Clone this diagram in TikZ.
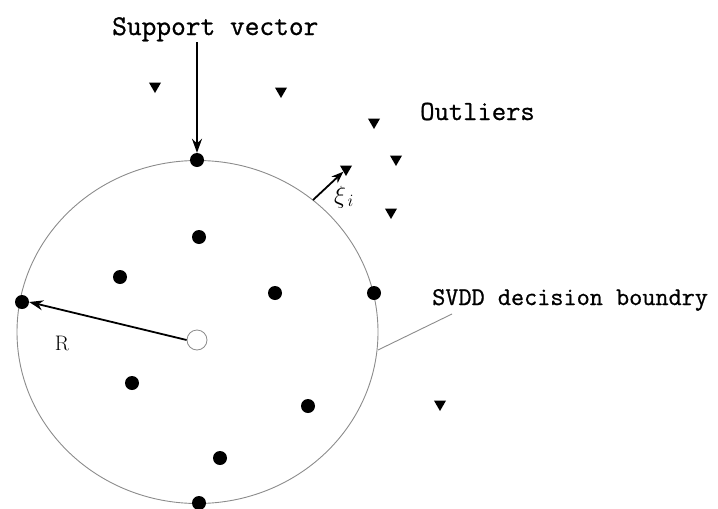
\documentclass[tikz,border=0pt]{standalone}
\usepackage{fontspec}
\setmonofont{Latin Modern Mono}[FakeBold=0.8]
\usetikzlibrary{shapes.geometric,arrows.meta}
\tikzset{
  dot/.style={circle,fill=black,inner sep=0pt,minimum size=14pt},
  hollow/.style={circle,draw=black!45,fill=white,line width=0.8pt,inner sep=0pt,minimum size=20pt},
  tri/.style={regular polygon,regular polygon sides=3,shape border rotate=180,fill=black,inner sep=0pt,minimum size=14pt},
  lbl/.style={inner sep=0pt,anchor=base west,font=\ttfamily},
  arr/.style={line width=1.8pt,-{Stealth[length=14pt,width=10pt]}},
}
\begin{document}
\begin{tikzpicture}[x=1pt,y=-1pt]
\useasboundingbox (0,0) rectangle (718,509);
% boundary
\draw[black!45,line width=0.9pt] (197.5,332) ellipse [x radius=180.5,y radius=171.5];
% dots
\node[dot] (d1) at (197,160) {};
\node[dot] (d2) at (199,237) {};
\node[dot] (d3) at (120,277) {};
\node[dot] (d4) at (275,293) {};
\node[dot] (d5) at (374,293) {};
\node[dot] (d6) at (22,302) {};
\node[dot] (d7) at (132,383) {};
\node[dot] (d8) at (308,406) {};
\node[dot] (d9) at (220,458) {};
\node[dot] (d10) at (199,503) {};
\node[hollow] (c) at (197,340) {};
% triangles
\node[tri] (t1) at (155,86) {};
\node[tri] (t2) at (281,91) {};
\node[tri] (t3) at (374,122) {};
\node[tri] (t4) at (396,159) {};
\node[tri] (t5) at (346,169) {};
\node[tri] (t6) at (391,212) {};
\node[tri] (t7) at (440,404) {};
% labels
\node[lbl,font=\ttfamily\fontsize{28.6}{30}\selectfont] (sv) at (112,35) {Support vector};
\node[lbl,font=\ttfamily\fontsize{27.8}{30}\selectfont] (out) at (420,120) {Outliers};
\node[lbl,font=\ttfamily\fontsize{25.5}{28}\selectfont] (bd) at (432,305) {SVDD decision boundry};
\node[inner sep=0pt,font=\fontsize{21}{23}\selectfont] (r) at (62,343) {R};
\node[inner sep=0pt,font=\fontsize{27}{29}\selectfont,anchor=west] (xi) at (334,197) {$\xi_{\,i}$};
% connectors
\coordinate (xs) at (313,200);
\coordinate (bs) at (378,350);
\coordinate (be) at (452,314);
\draw[arr] (197,42) -- (d1.north);
\draw[arr] (c.west) -- (d6.east);
\draw[line width=1.8pt,-{Stealth[length=12pt,width=9pt]}] (xs) -- (t5.south west);
\draw[black!45,line width=0.9pt] (bs) -- (be);
\end{tikzpicture}
\end{document}
